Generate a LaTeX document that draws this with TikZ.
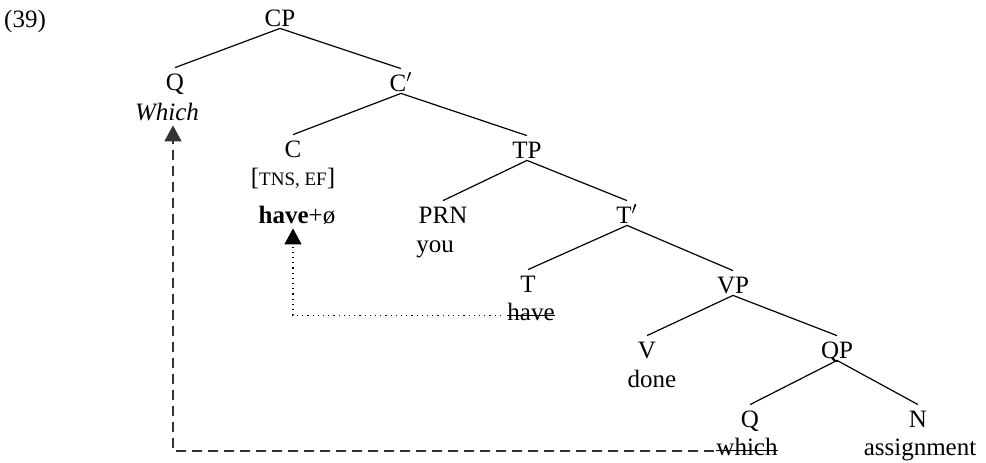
\documentclass[tikz,border=0pt]{standalone}
\usepackage{fontspec}
\setmainfont{Liberation Serif}
\usetikzlibrary{arrows.meta,positioning}

\begin{document}
\begin{tikzpicture}[
        x=0.5pt, y=-0.5pt,
        every node/.style={font=\fontsize{12.5}{15}\selectfont, anchor=base, inner sep=1pt, text height=8.5pt, text depth=0pt},
        branch/.style={line width=0.6pt},
        strike/.style={line width=0.7pt},
        headmove/.style={dotted, line width=0.6pt, -{Triangle[width=8.5pt,length=8pt]}},
        phrasemove/.style={dash pattern=on 5pt off 3pt, line width=0.7pt, black!80, -{Triangle[width=8.5pt,length=8pt]}}
      ]
      \useasboundingbox (0,0) rectangle (986,462);

      \node (ex) at (25,27) {(39)};

      % categories
      \node (cp) at (280,26) {CP};
      \node (qa) at (175,90) {Q};
      \node (cbar) at (401,91) {C$'$};
      \node (c) at (293,157) {C};
      \node (tp) at (527,158) {TP};
      \node (prn) at (443,223) {PRN};
      \node (tbar) at (627,223) {T$'$};
      \node (t) at (528,292) {T};
      \node (vp) at (733,293) {VP};
      \node (v) at (647,358) {V};
      \node (qp) at (837,358) {QP};
      \node (qb) at (750,427) {Q};
      \node (n) at (918,427) {N};

      % words and features
      \node (wh) at (167,120) {\textit{Which}};
      \node (feat) at (293,185) {[{\fontsize{9.5}{11}\selectfont TNS, EF}]};
      \node (hv) at (297,223) {\textbf{have}+ø};
      \node (you) at (435,252) {you};
      \node (hvt) at (531,320) {have};
      \node (done) at (652,387) {done};
      \node (wht) at (747,455) {which};
      \node (asg) at (920,455) {assignment};

      \foreach \up/\dn in {cp/qa, cp/cbar, cbar/c, cbar/tp, tp/prn, tp/tbar, tbar/t, tbar/vp, vp/v, vp/qp, qp/qb, qp/n}
        \draw[branch] (\up.south) -- ([yshift=1.5pt]\dn.north);

      % deleted copies
      \draw[strike] ([xshift=1pt]hvt.mid west) -- ([xshift=-1pt]hvt.mid east);
      \draw[strike] ([xshift=1pt]wht.mid west) -- ([xshift=-1pt]wht.mid east);

      % movement
      \draw[headmove] ([xshift=-2pt]hvt.mid west) -| ([xshift=-2pt,yshift=-1.5pt]hv.south);
      \draw[phrasemove] ([yshift=2pt]wht.base west) -| ([xshift=3pt,yshift=-1.5pt]wh.south);
    \end{tikzpicture}
\end{document}
